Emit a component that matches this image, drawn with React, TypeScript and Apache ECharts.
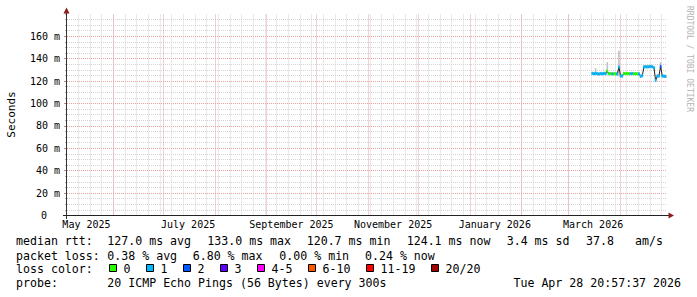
import React, { useEffect, useRef } from "react";
import * as echarts from "echarts";

const DAY = 86400000;
const X_MIN = Date.UTC(2025, 4, 4, 8);
const X_MAX = X_MIN + 360 * DAY;
const Y_MAX = 179.9;

// x-axis labels (centred mid-month, every second month)
const monthLabels = ["May 2025", "July 2025", "September 2025", "November 2025", "January 2026", "March 2026"];
const monthLabelTimes = [
  Date.UTC(2025, 4, 16),
  Date.UTC(2025, 6, 16),
  Date.UTC(2025, 8, 16),
  Date.UTC(2025, 10, 16),
  Date.UTC(2026, 0, 16),
  Date.UTC(2026, 2, 16),
];

// daily samples from 2026-03-15 12:00 UTC
const sampleStart = Date.UTC(2026, 2, 15, 12);
const medianMs = [
  126.8, 126.5, 126.9, 126.6, 126.4, 126.7, 126.5, 126.8, 126.6, 129.0,
  126.5, 126.7, 126.4, 126.6, 126.5, 126.3, 132.6, 124.6, 124.5, 126.7,
  126.6, 126.8, 126.5, 126.6, 126.7, 126.5, 126.6, 126.4, 126.5, 124.3,
  124.8, 132.6, 132.8, 132.7, 132.9, 133.0, 132.8, 131.9, 120.7, 124.4,
  124.6, 133.0, 124.6, 124.3, 124.1,
];
const lossPings = [
  1, 1, 1, 1, 1, 1, 1, 1, 1, 0,
  0, 0, 1, 0, 0, 1, 1, 1, 1, 0,
  0, 0, 0, 1, 1, 0, 0, 0, 1, 1,
  1, 1, 1, 1, 1, 1, 1, 1, 1, 1,
  1, 2, 1, 1, 1,
];
const smokeLowMs = [
  125.5, 125.3, 125.4, 125.3, 125.2, 125.4, 125.2, 125.5, 125.3, 126.0,
  125.3, 125.4, 125.2, 125.4, 125.3, 125.1, 124.0, 123.4, 123.3, 125.5,
  125.4, 125.6, 125.3, 125.4, 125.5, 125.3, 125.4, 125.2, 125.3, 123.1,
  123.5, 131.4, 131.6, 131.5, 131.7, 131.8, 131.6, 130.6, 119.5, 123.2,
  123.4, 130.0, 123.4, 123.1, 122.9,
];
const smokeHighMs = [
  128.5, 128.2, 131.5, 128.0, 127.9, 128.2, 128.0, 128.4, 128.3, 137.0,
  128.0, 128.2, 127.9, 128.1, 128.0, 127.8, 147.0, 126.5, 126.2, 128.3,
  128.1, 128.3, 128.0, 128.2, 128.3, 128.0, 128.1, 127.9, 128.0, 126.0,
  126.4, 134.2, 134.4, 134.3, 134.5, 134.6, 134.4, 133.6, 122.6, 126.0,
  126.3, 137.0, 126.3, 125.9, 125.8,
];

const lossColors = ["#26ff00", "#00b8ff", "#0059ff", "#5e00ff", "#ff00ff", "#ff5500", "#ff0000", "#a00000"];
const lossLabels = ["0", "1", "2", "3", "4-5", "6-10", "11-19", "20/20"];

const rttTitle = "median rtt:";
const rttStats = ["127.0 ms avg", "133.0 ms max", "120.7 ms min", "124.1 ms now", "3.4 ms sd", "37.8", "am/s"];
const lossTitle = "packet loss:";
const lossStats = ["0.38 % avg", "6.80 % max", "0.00 % min", "0.24 % now"];
const colorTitle = "loss color:";
const probeTitle = "probe:";
const probeText = "20 ICMP Echo Pings (56 Bytes) every 300s";
const stampText = "Tue Apr 28 20:57:37 2026";

const MONO = "DejaVu Sans Mono";
const rttX = [107.3, 207.3, 306.7, 406.7, 506.7, 586, 635];
const lossX = [107.3, 192.7, 279.3, 365];

function lossIndex(p: number) {
  if (p <= 3) return p;
  if (p <= 5) return 4;
  if (p <= 10) return 5;
  if (p <= 19) return 6;
  return 7;
}

function buildGrid() {
  const weeks: number[][] = [];
  const months: number[][] = [];
  // Sundays
  let d = new Date(X_MIN);
  let t = Date.UTC(d.getUTCFullYear(), d.getUTCMonth(), d.getUTCDate());
  while (new Date(t).getUTCDay() !== 0 || t < X_MIN) t += DAY;
  for (; t < X_MAX; t += 7 * DAY) weeks.push([t, 0]);
  let y = d.getUTCFullYear();
  let m = d.getUTCMonth() + 1;
  while (true) {
    const mt = Date.UTC(y, m, 1);
    if (mt >= X_MAX) break;
    months.push([mt, 0]);
    m++;
  }
  return { weeks, months };
}

function gridLineSeries(data: number[][], color: string, z: number) {
  return {
    type: "custom",
    xAxisIndex: 0,
    yAxisIndex: 1,
    z,
    silent: true,
    data,
    renderItem: (_p: any, api: any) => {
      const t = api.value(0);
      const a = api.coord([t, 0]);
      const b = api.coord([t, Y_MAX]);
      const x = Math.round(a[0]) + 0.5;
      return {
        type: "line",
        shape: { x1: x, y1: a[1], x2: x, y2: b[1] },
        style: { stroke: color, lineWidth: 1, lineDash: [1, 1] },
      };
    },
  };
}

export default function App() {
  const ref = useRef<HTMLDivElement>(null);
  useEffect(() => {
    const chart = echarts.init(ref.current!, null, { renderer: "svg" });
    const { weeks, months } = buildGrid();
    const times = medianMs.map((_, i) => sampleStart + i * DAY);
    const HALF = DAY / 2;

    const graphics: any[] = [];
    const txt = (x: number, y: number, text: string, extra: any = {}) =>
      graphics.push({
        type: "text",
        x,
        y,
        silent: true,
        style: { text, fontFamily: MONO, fontSize: 11.6, fill: "#000", verticalAlign: "middle", align: "left", ...extra },
      });
    txt(16, 241, rttTitle);
    rttStats.forEach((s, i) => txt(rttX[i], 241, s));
    txt(16, 255.7, lossTitle);
    lossStats.forEach((s, i) => txt(lossX[i], 255.7, s));
    txt(16, 269, colorTitle);
    let bx = 108.5;
    lossLabels.forEach((lab, i) => {
      graphics.push({
        type: "rect",
        silent: true,
        shape: { x: Math.round(bx) + 0.5, y: 264.5, width: 7, height: 7 },
        style: { fill: lossColors[i], stroke: "#000", lineWidth: 1 },
      });
      txt(bx + 15, 269, lab);
      bx += 30 + 7 * lab.length;
    });
    txt(16, 283.3, probeTitle);
    txt(107.3, 283.3, probeText);
    txt(681, 283.3, stampText, { align: "right" });
    // Seconds
    graphics.push({
      type: "text",
      x: 11,
      y: 114.5,
      rotation: Math.PI / 2,
      silent: true,
      style: { text: "Seconds", fontFamily: MONO, fontSize: 11, fill: "#000", align: "center", verticalAlign: "middle" },
    });
    graphics.push({
      type: "text",
      x: 689,
      y: 6,
      rotation: -Math.PI / 2,
      silent: true,
      style: { text: "RRDTOOL / TOBI OETIKER", fontFamily: MONO, fontSize: 8, fill: "#b4b4b4", align: "left", verticalAlign: "middle" },
    });
    // axes
    graphics.push({ type: "line", silent: true, z: 50, shape: { x1: 66.5, y1: 219, x2: 66.5, y2: 12 }, style: { stroke: "#333", lineWidth: 1 } });
    graphics.push({ type: "line", silent: true, z: 50, shape: { x1: 63, y1: 215.5, x2: 670, y2: 215.5 }, style: { stroke: "#222", lineWidth: 1 } });
    graphics.push({ type: "polygon", silent: true, z: 51, shape: { points: [[66.5, 7.5], [63.5, 13.5], [69.5, 13.5]] }, style: { fill: "#8b1c1c" } });
    graphics.push({ type: "polygon", silent: true, z: 51, shape: { points: [[674, 215.5], [668.5, 212.5], [668.5, 218.5]] }, style: { fill: "#8b1c1c" } });

    chart.setOption({
      animation: false,
      backgroundColor: "#fff",
      grid: { left: 67, top: 14, right: 30, bottom: 81.5, containLabel: false },
      xAxis: {
        type: "time",
        min: X_MIN,
        max: X_MAX,
        show: true,
        axisLine: { show: false },
        axisTick: { show: false },
        axisLabel: { show: false },
        splitLine: { show: false },
      },
      yAxis: [
        {
          type: "value",
          position: "left",
          min: 0,
          max: Y_MAX,
          interval: 5,
          axisLine: { show: false },
          axisTick: { show: true, length: 2, lineStyle: { color: "#aaa" } },
          axisLabel: { show: false },
          splitLine: { show: true, showMinLine: false, showMaxLine: false, lineStyle: { color: "#d4d4d4", width: 1, type: [1, 1] } },
        },
        {
          type: "value",
          position: "left",
          min: 0,
          max: Y_MAX,
          interval: 20,
          axisLine: { show: false },
          axisTick: { show: true, length: 3, lineStyle: { color: "#999" } },
          axisLabel: {
            show: true,
            showMaxLabel: false,
            margin: 7,
            fontFamily: MONO,
            fontSize: 10,
            color: "#000",
            formatter: (v: number) => (v === 0 ? "{z|0}" : `${v} m`),
            rich: { z: { padding: [0, 13, 0, 0], fontFamily: MONO, fontSize: 10, color: "#000" } },
          },
          splitLine: { show: true, showMinLine: false, showMaxLine: false, lineStyle: { color: "#eaa0a0", width: 1, type: [1, 1] } },
        },
      ],
      series: [
        gridLineSeries(weeks, "#d4d4d4", 1),
        gridLineSeries(months, "#eaa0a0", 1),
        {
          type: "custom",
          yAxisIndex: 1,
          z: 1,
          silent: true,
          clip: false,
          data: monthLabelTimes.map((t, i) => [t, 0, i]),
          renderItem: (_p: any, api: any) => {
            const p = api.coord([api.value(0), 0]);
            return {
              type: "text",
              x: p[0],
              y: p[1] + 9,
              style: {
                text: monthLabels[api.value(2)],
                fontFamily: MONO,
                fontSize: 10,
                fill: "#000",
                align: "center",
                verticalAlign: "middle",
              },
            };
          },
        },
        {
          type: "custom",
          yAxisIndex: 1,
          z: 2,
          silent: true,
          data: times.map((t, i) => [t, smokeLowMs[i], smokeHighMs[i]]),
          encode: { x: 0, y: [1, 2] },
          renderItem: (_p: any, api: any) => {
            const t = api.value(0);
            const lo = api.coord([t - HALF, api.value(1)]);
            const hi = api.coord([t + HALF, api.value(2)]);
            return {
              type: "rect",
              shape: { x: lo[0], y: hi[1], width: hi[0] - lo[0], height: lo[1] - hi[1] },
              style: { fill: "#c4c4c4" },
            };
          },
        },
        {
          type: "line",
          yAxisIndex: 1,
          z: 3,
          silent: true,
          symbol: "none",
          data: times.map((t, i) => [t, medianMs[i]]),
          lineStyle: { color: "#202020", width: 1 },
        },
        {
          type: "custom",
          yAxisIndex: 1,
          z: 4,
          silent: true,
          data: times.map((t, i) => [t, medianMs[i], lossIndex(lossPings[i])]),
          encode: { x: 0, y: 1 },
          renderItem: (_p: any, api: any) => {
            const t = api.value(0);
            const a = api.coord([t - HALF, api.value(1)]);
            const b = api.coord([t + HALF, api.value(1)]);
            return {
              type: "rect",
              shape: { x: a[0], y: a[1] - 1.5, width: b[0] - a[0], height: 3 },
              style: { fill: lossColors[api.value(2)] },
            };
          },
        },
      ],
      graphic: graphics,
    });
    return () => chart.dispose();
  }, []);
  return <div ref={ref} style={{ position: "fixed", left: 0, top: 0, width: 697, height: 297 }} />;
}
